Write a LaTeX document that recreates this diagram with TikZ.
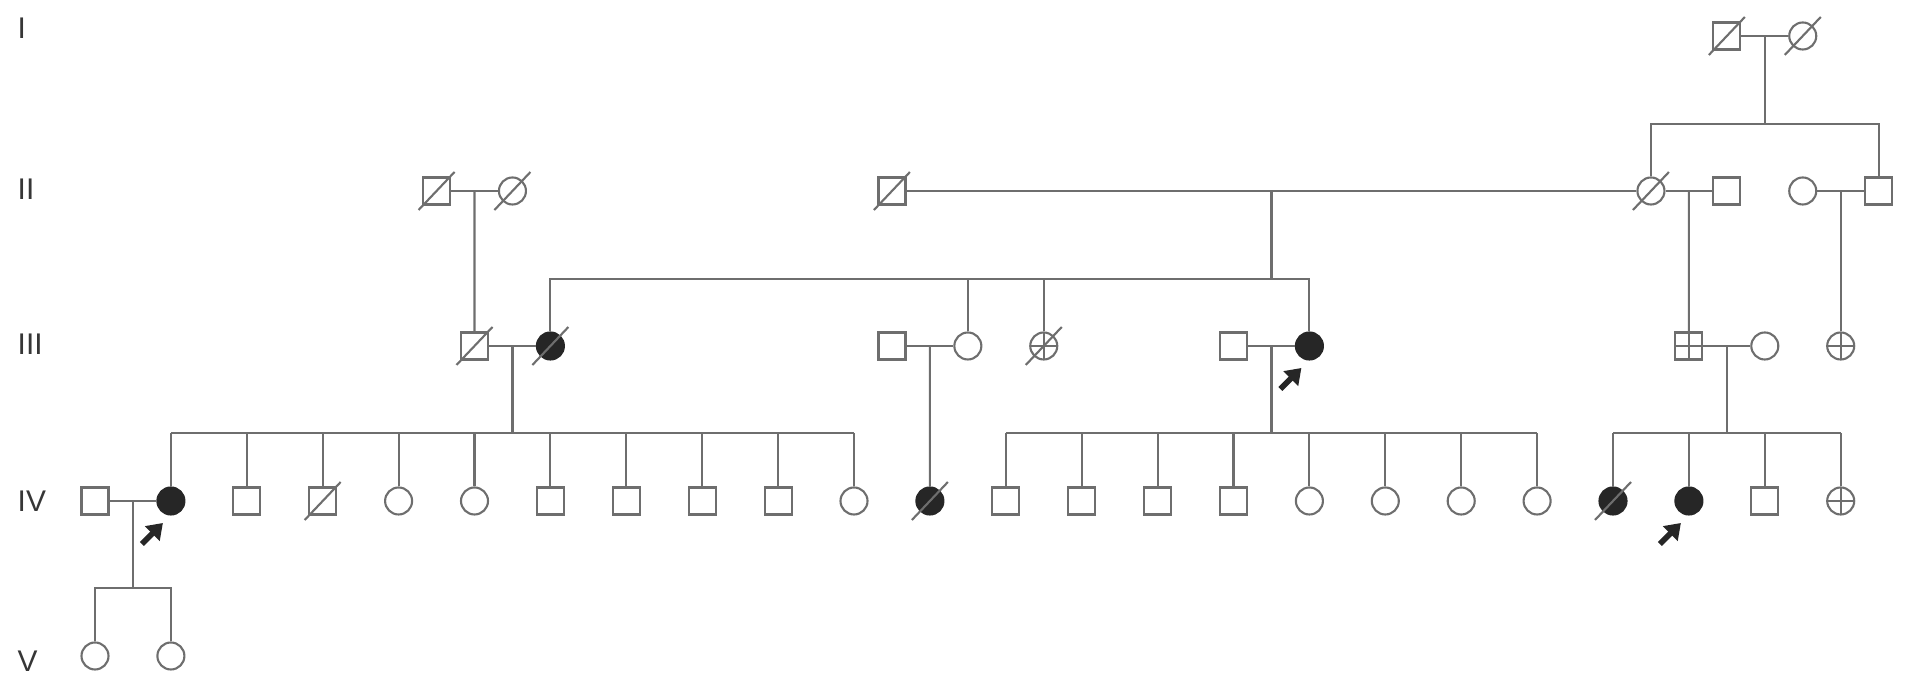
\documentclass[tikz,border=0pt]{standalone}
\usepackage{fontspec}
\setmainfont{Liberation Sans}
\usepackage{tikz}
\usetikzlibrary{arrows.meta,calc}
\usepackage{xcolor}
\definecolor{LineGray}{HTML}{6E6E6E}
\definecolor{FillDark}{HTML}{262626}
\definecolor{TextGray}{HTML}{363636}

\begin{document}
\begin{tikzpicture}[x=0.01cm,y=-0.01cm,
    line/.style={LineGray,line width=0.6pt},
    male/.style={rectangle,draw=LineGray,line width=0.6pt,minimum size=0.27cm,inner sep=0pt},
    female/.style={circle,draw=LineGray,line width=0.6pt,minimum size=0.27cm,inner sep=0pt},
    affected/.style={female,fill=FillDark,draw=FillDark},
    crossed/.style={path picture={\draw[LineGray,line width=0.6pt]
        (path picture bounding box.north)--(path picture bounding box.south)
        (path picture bounding box.west)--(path picture bounding box.east);}},
    malex/.style={male,crossed},
    femalex/.style={female,crossed},
    gen/.style={anchor=west,inner sep=0pt,font=\fontsize{8.5}{10}\selectfont,TextGray},
    proband/.style={-{Triangle[length=0.15cm,width=0.2cm]},line width=1.6pt,FillDark}]
  \useasboundingbox (0,0) rectangle (1908,680);
  % generation labels
  \foreach \g/\y in {I/28,II/189,III/344,IV/501,V/661}
    \node[gen] (g\g) at (17,\y) {\g};
  % individuals, x = 95 + 75.9 k
  \foreach \k/\nm/\sty in {21.5/i1/male,22.5/i2/female}
    \node[\sty] (\nm) at ({95+75.9*\k},36) {};
  \foreach \k/\nm/\sty in {4.5/ii1/male,5.5/ii2/female,10.5/ii3/male,20.5/ii4/female,
      21.5/ii5/male,22.5/ii6/female,23.5/ii7/male}
    \node[\sty] (\nm) at ({95+75.9*\k},191) {};
  \foreach \k/\nm/\sty in {5/iii1/male,6/iii2/affected,10.5/iii3/male,11.5/iii4/female,
      12.5/iii5/femalex,15/iii6/male,16/iii7/affected,21/iii8/malex,22/iii9/female,23/iii10/femalex}
    \node[\sty] (\nm) at ({95+75.9*\k},346) {};
  \foreach \k/\sty in {0/male,1/affected,2/male,3/male,4/female,5/female,6/male,7/male,
      8/male,9/male,10/female,11/affected,12/male,13/male,14/male,15/male,16/female,
      17/female,18/female,19/female,20/affected,21/affected,22/male,23/femalex}
    \node[\sty] (iv\k) at ({95+75.9*\k},501) {};
  \foreach \k/\nm in {0/v1,1/v2}
    \node[female] (\nm) at ({95+75.9*\k},656) {};
  % deceased
  \foreach \n in {i1,i2,ii1,ii2,ii3,ii4,iii1,iii2,iii5,iv3,iv11,iv20}
    \draw[line] ($(\n.center)+(-18,19)$)--($(\n.center)+(18,-19)$);
  % generation I
  \draw[line] (i1)--(i2);
  \coordinate (mI) at ($(i1)!.5!(i2)$);
  \coordinate (sI) at ($(mI)+(0,88)$);
  \draw[line] (mI)--(sI);
  \draw[line] (ii4.north) |- (sI) -| (ii7.north);
  % generation II
  \draw[line] (ii1)--(ii2);
  \draw[line] ($(ii1)!.5!(ii2)$)--(iii1);
  \draw[line] (ii3)--(ii4);
  \coordinate (mII) at ({95+75.9*15.5},191);
  \coordinate (sII) at ({95+75.9*15.5},279);
  \draw[line] (mII)--(sII);
  \draw[line] (iii2.north) |- (sII) -| (iii7.north);
  \foreach \c in {iii4,iii5}
    \draw[line] (\c.north)--(\c.north |- sII);
  \draw[line] (ii4)--(ii5);
  \draw[line] ($(ii4)!.5!(ii5)$)--(iii8);
  \draw[line] (ii6)--(ii7);
  \draw[line] ($(ii6)!.5!(ii7)$)--(iii10);
  % generation III
  \draw[line] (iii1)--(iii2);
  \coordinate (mIIIa) at ($(iii1)!.5!(iii2)$);
  \coordinate (sIIIa) at ($(mIIIa)+(0,87)$);
  \draw[line] (mIIIa)--(sIIIa);
  \draw[line] (iv1.north |- sIIIa)--(iv10.north |- sIIIa);
  \foreach \c in {1,...,10}
    \draw[line] (iv\c.north)--(iv\c.north |- sIIIa);
  \draw[line] (iii3)--(iii4);
  \draw[line] ($(iii3)!.5!(iii4)$)--(iv11);
  \draw[line] (iii6)--(iii7);
  \coordinate (mIIIb) at ($(iii6)!.5!(iii7)$);
  \coordinate (sIIIb) at ($(mIIIb)+(0,87)$);
  \draw[line] (mIIIb)--(sIIIb);
  \draw[line] (iv12.north |- sIIIb)--(iv19.north |- sIIIb);
  \foreach \c in {12,...,19}
    \draw[line] (iv\c.north)--(iv\c.north |- sIIIb);
  \draw[line] (iii8)--(iii9);
  \coordinate (mIIIc) at ($(iii8)!.5!(iii9)$);
  \coordinate (sIIIc) at ($(mIIIc)+(0,87)$);
  \draw[line] (mIIIc)--(sIIIc);
  \draw[line] (iv20.north |- sIIIc)--(iv23.north |- sIIIc);
  \foreach \c in {20,...,23}
    \draw[line] (iv\c.north)--(iv\c.north |- sIIIc);
  % generation IV
  \draw[line] (iv0)--(iv1);
  \coordinate (mIV) at ($(iv0)!.5!(iv1)$);
  \coordinate (sIV) at ($(mIV)+(0,87)$);
  \draw[line] (mIV)--(sIV);
  \draw[line] (v1.north) |- (sIV) -| (v2.north);
  % probands
  \foreach \p in {iv1,iii7,iv21}
    \draw[proband] ($(\p.center)+(-29,43)$)--($(\p.center)+(-8,22)$);
\end{tikzpicture}
\end{document}
